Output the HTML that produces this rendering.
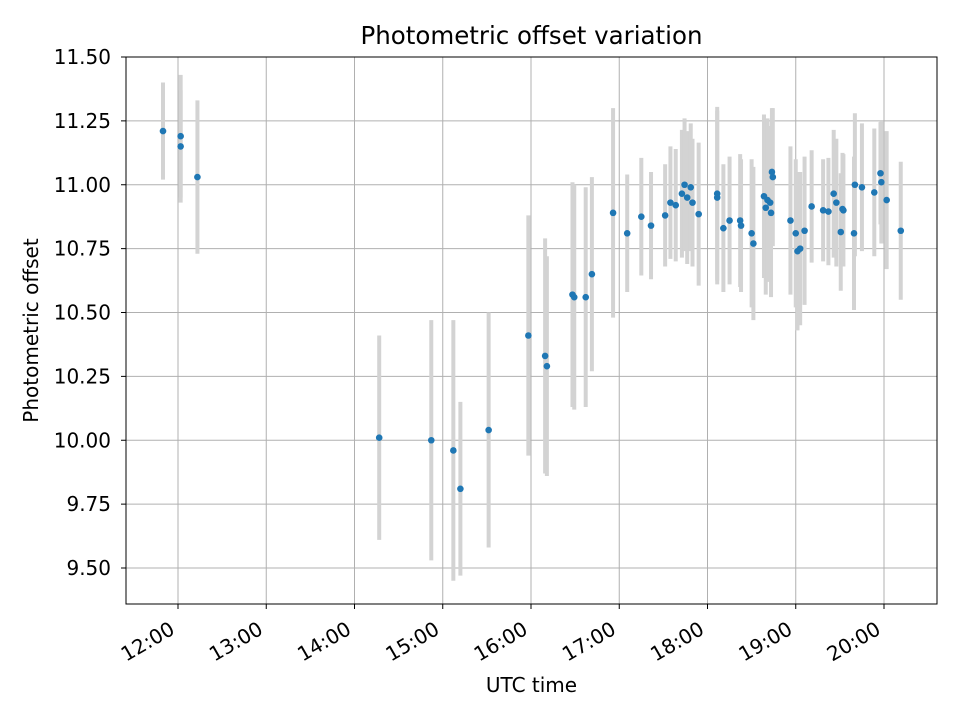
<!DOCTYPE html>
<html><head><meta charset="utf-8"><style>
body{margin:0;background:#fff;}
svg text{font-family:"DejaVu Sans","Liberation Sans",sans-serif;fill:#000;}
</style></head><body>
<svg id="chart" width="960" height="720" viewBox="0 0 960 720" xmlns="http://www.w3.org/2000/svg">
<rect width="960" height="720" fill="#fff"/>
<g id="grid"></g><g id="bars"></g><g id="pts"></g><g id="axes"></g>
</svg>
<script>
const times=[11.83,12.03,12.03,12.22,14.28,14.87,15.12,15.20,15.52,15.97,16.16,16.18,16.47,16.49,16.62,16.69,16.93,17.09,17.25,17.36,17.52,17.58,17.64,17.71,17.74,17.77,17.81,17.83,17.90,18.11,18.11,18.18,18.25,18.37,18.38,18.50,18.52,18.64,18.66,18.68,18.71,18.73,18.74,18.72,18.94,19.00,19.02,19.05,19.10,19.18,19.31,19.37,19.43,19.46,19.51,19.53,19.54,19.66,19.67,19.75,19.89,19.96,19.97,20.03,20.19];
const values=[11.21,11.19,11.15,11.03,10.01,10.00,9.96,9.81,10.04,10.41,10.33,10.29,10.57,10.56,10.56,10.65,10.89,10.81,10.875,10.84,10.88,10.93,10.92,10.965,11.00,10.95,10.99,10.93,10.885,10.965,10.95,10.83,10.86,10.86,10.84,10.81,10.77,10.955,10.91,10.94,10.93,11.05,11.03,10.89,10.86,10.81,10.74,10.75,10.82,10.915,10.90,10.895,10.965,10.93,10.815,10.905,10.90,10.81,11.00,10.99,10.97,11.045,11.01,10.94,10.82];
const errors=[0.19,0.24,0.22,0.30,0.40,0.47,0.51,0.34,0.46,0.47,0.46,0.43,0.44,0.44,0.43,0.38,0.41,0.23,0.23,0.21,0.20,0.22,0.22,0.25,0.26,0.26,0.25,0.25,0.28,0.34,0.34,0.25,0.25,0.26,0.26,0.29,0.30,0.32,0.34,0.32,0.30,0.25,0.27,0.33,0.29,0.29,0.31,0.30,0.29,0.22,0.20,0.21,0.25,0.25,0.23,0.22,0.22,0.30,0.28,0.25,0.25,0.20,0.24,0.27,0.27];
const xTickLabels=["12:00","13:00","14:00","15:00","16:00","17:00","18:00","19:00","20:00"];
const xTickHours=[12,13,14,15,16,17,18,19,20];
const yTicks=[9.50,9.75,10.00,10.25,10.50,10.75,11.00,11.25,11.50];

const L=126,R=937,T=57,B=604;
const X=h=>178+(h-12)*88.25;
const Y=v=>57+(11.5-v)*255.5;
const NS="http://www.w3.org/2000/svg";
function mk(tag,parent,attrs){const e=document.createElementNS(NS,tag);for(const k in attrs)e.setAttribute(k,attrs[k]);document.getElementById(parent).appendChild(e);return e;}

xTickHours.forEach((h,i)=>{
  const g=mk('line','grid',{x1:X(h),x2:X(h),y1:T,y2:B,stroke:'#b0b0b0','stroke-width':1});
  
  
  const t=mk('line','axes',{x1:X(h),x2:X(h),y1:B,y2:B+5,stroke:'#000','stroke-width':1});
  
  
  const x=X(h)-2,y=B+29;
  const lb=mk('text','axes',{x:x,y:y,'font-size':20,'text-anchor':'end',transform:`rotate(-30 ${x} ${y})`});
  lb.textContent=xTickLabels[i];
  
  
});
yTicks.forEach(v=>{
  const g=mk('line','grid',{x1:L,x2:R,y1:Y(v),y2:Y(v),stroke:'#b0b0b0','stroke-width':1});
  
  
  const t=mk('line','axes',{x1:L-5,x2:L,y1:Y(v),y2:Y(v),stroke:'#000','stroke-width':1});
  
  
  const lb=mk('text','axes',{x:L-15,y:Y(v)+7,'font-size':20,'text-anchor':'end'});
  lb.textContent=v.toFixed(2);
  
  
});
times.forEach((h,i)=>{
  const b=mk('line','bars',{x1:X(h),x2:X(h),y1:Y(values[i]+errors[i]),y2:Y(values[i]-errors[i]),stroke:'#d3d3d3','stroke-width':4});
  
  
});
times.forEach((h,i)=>{
  const p=mk('circle','pts',{cx:X(h),cy:Y(values[i]),r:3.3,fill:'#1f77b4'});
  
  
});
const fr=mk('rect','axes',{x:L,y:T,width:R-L,height:B-T,fill:'none',stroke:'#000','stroke-width':1});


const ti=mk('text','axes',{x:(L+R)/2,y:44,'font-size':24.5,'text-anchor':'middle'});
ti.textContent='Photometric offset variation';


const xt=mk('text','axes',{x:(L+R)/2,y:692,'font-size':20,'text-anchor':'middle'});
xt.textContent='UTC time';


const yt=mk('text','axes',{x:38,y:(T+B)/2,'font-size':20,'text-anchor':'middle',transform:`rotate(-90 38 ${(T+B)/2})`});
yt.textContent='Photometric offset';


</script>
</body></html>
